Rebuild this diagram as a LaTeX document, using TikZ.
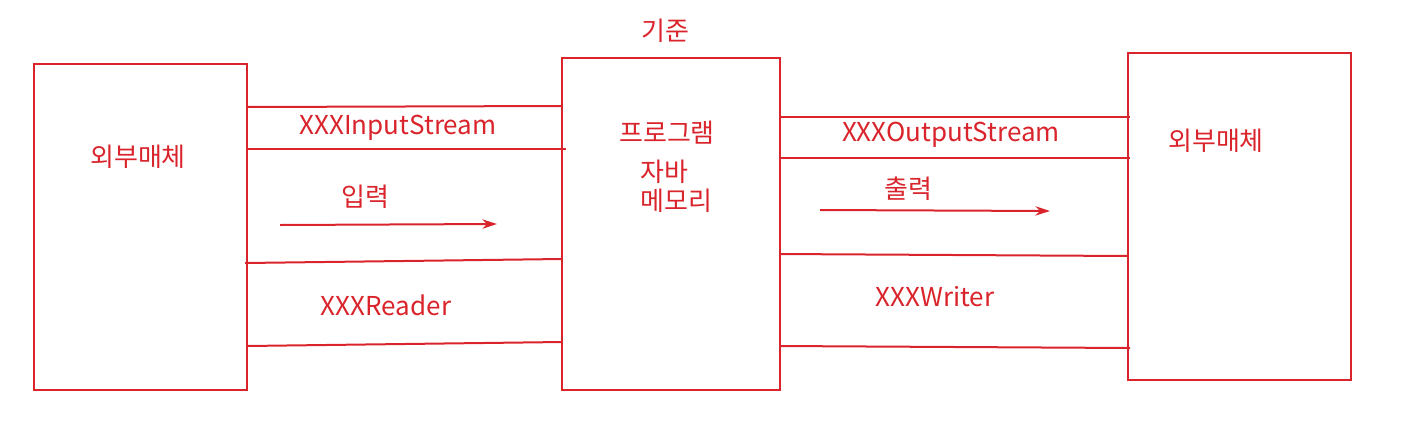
\documentclass[tikz,border=0pt]{standalone}
\usepackage{fontspec}
\setmainfont{Noto Sans CJK KR}
\usetikzlibrary{arrows.meta}
\definecolor{pen}{RGB}{218,36,44}
\begin{document}
\begin{tikzpicture}[x=0.75pt,y=-0.75pt,
  box/.style={draw=pen,line width=1.5pt},
  link/.style={draw=pen,line width=1.5pt},
  flow/.style={draw=pen,line width=1.5pt,-{Stealth[length=11pt,width=7pt]}},
  lbl/.style={text=pen,font=\fontsize{19.5pt}{23pt}\selectfont,inner sep=0pt}]
\useasboundingbox (0,0) rectangle (1426,425);
% boxes
\draw[box] (34,64) rectangle (247,390);
\draw[box] (562,58) rectangle (780,390);
\draw[box] (1128,53) rectangle (1351,380);
% connector endpoints
\coordinate (a1) at (247,107); \coordinate (b1) at (562,106);
\coordinate (a2) at (247,149); \coordinate (b2) at (566,149);
\coordinate (a3) at (245,263); \coordinate (b3) at (562,259);
\coordinate (a4) at (247,346); \coordinate (b4) at (562,342);
\coordinate (c1) at (779,117); \coordinate (d1) at (1130,117);
\coordinate (c2) at (779,158); \coordinate (d2) at (1130,158);
\coordinate (c3) at (779,254); \coordinate (d3) at (1128,256);
\coordinate (c4) at (780,346); \coordinate (d4) at (1130,348);
\coordinate (i1) at (280,225); \coordinate (i2) at (497,224);
\coordinate (o1) at (820,210); \coordinate (o2) at (1050,211);
\draw[link] (a1) -- (b1);
\draw[link] (a2) -- (b2);
\draw[link] (a3) -- (b3);
\draw[link] (a4) -- (b4);
\draw[link] (c1) -- (d1);
\draw[link] (c2) -- (d2);
\draw[link] (c3) -- (d3);
\draw[link] (c4) -- (d4);
\draw[flow] (i1) -- (i2);
\draw[flow] (o1) -- (o2);
% labels
\node[lbl] (std) at (665,31) {기준};
\node[lbl] (ext1) at (138,157) {외부매체};
\node[lbl] (ext2) at (1216,141) {외부매체};
\node[lbl] (prog) at (667,133) {프로그램};
\node[lbl,anchor=west] (java) at (640,172) {자바};
\node[lbl,anchor=west] (mem) at (640,201) {메모리};
\node[lbl] (ins) at (398,128) {XXXInputStream};
\node[lbl] (inp) at (365,197) {입력};
\node[lbl] (rd) at (386,305) {XXXReader};
\node[lbl] (outs) at (951,135) {XXXOutputStream};
\node[lbl] (outp) at (908,189) {출력};
\node[lbl] (wr) at (935,297) {XXXWriter};
\end{tikzpicture}
\end{document}
